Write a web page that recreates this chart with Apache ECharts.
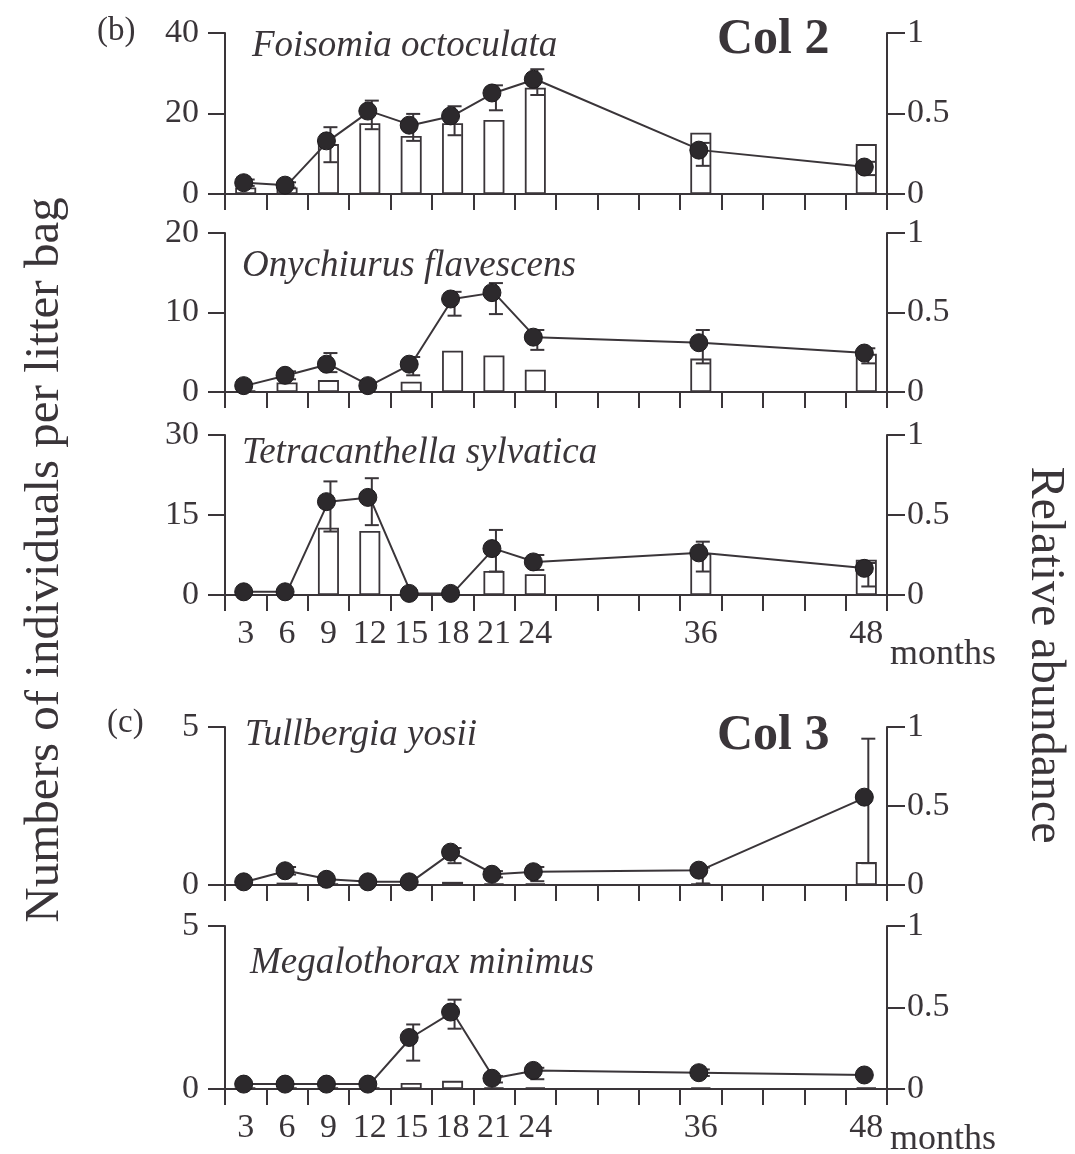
<!DOCTYPE html>
<html>
<head>
<meta charset="utf-8">
<script src="https://cdn.jsdelivr.net/npm/echarts@6/dist/echarts.min.js"></script>
<style>html,body{margin:0;padding:0;background:#fff}#c{width:1075px;height:1154px}</style>
</head>
<body>
<div id="c"></div>
<script>
// ---- data ----
const months = ['3','6','9','12','15','18','21','24','27','30','33','36','39','42','45','48'];
const sampleMonths = ['3','6','9','12','15','18','21','24','36','48'];
const tickLabels = ['3','6','9','12','15','18','21','24','36','48'];

const speciesNames = ['Foisomia octoculata','Onychiurus flavescens','Tetracanthella sylvatica','Tullbergia yosii','Megalothorax minimus'];
const leftMax = [40, 20, 30, 5, 5];
const leftInterval = [20, 10, 15, 5, 5];

// mean numbers per litter bag (left axis), error bar ends, relative abundance (right axis)
const foisomiaMean = [2.8, 2.2, 13.2, 20.6, 17.1, 19.4, 25.1, 28.5, 10.9, 6.7];
const foisomiaHi   = [3.6, 2.9, 16.6, 23.2, 19.9, 21.8, 27.0, 31.0, 12.7, 8.0];
const foisomiaLo   = [2.0, 1.6, 7.9, 16.1, 13.2, 14.6, 20.8, 24.6, 7.0, 4.7];
const foisomiaRel  = [0.04, 0.04, 0.31, 0.44, 0.36, 0.44, 0.46, 0.66, 0.38, 0.31];

const onychiurusMean = [0.8, 2.1, 3.5, 0.8, 3.5, 11.7, 12.5, 6.9, 6.2, 4.9];
const onychiurusHi   = [null, 2.6, 4.9, null, 4.4, 12.6, 13.7, 7.8, 7.8, 5.5];
const onychiurusLo   = [null, 1.6, 2.5, null, 2.1, 9.6, 9.8, 5.3, 3.6, 3.6];
const onychiurusRel  = [0.01, 0.06, 0.075, 0, 0.065, 0.26, 0.23, 0.14, 0.21, 0.24];

const tetraMean = [0.6, 0.6, 17.5, 18.3, 0.3, 0.3, 8.7, 6.2, 7.9, 5.0];
const tetraHi   = [null, null, 21.3, 21.9, null, null, 12.2, 7.5, 10.0, 6.0];
const tetraLo   = [null, null, 11.9, 13.1, null, null, 4.4, 4.7, 4.4, 1.6];
const tetraRel  = [0, 0, 0.42, 0.40, 0, 0, 0.15, 0.13, 0.26, 0.22];

const tullMean = [0.1, 0.45, 0.18, 0.1, 0.1, 1.04, 0.34, 0.42, 0.47, 2.78];
const tullHi   = [null, 0.57, null, null, null, 1.17, 0.44, 0.57, 0.55, 4.63];
const tullLo   = [null, 0.33, null, null, null, 0.69, 0.24, 0.12, 0.05, 0.69];
const tullRel  = [0, 0.015, 0.01, 0, 0, 0.02, 0.01, 0.01, 0.01, 0.145];

const megaMean = [0.15, 0.15, 0.15, 0.15, 1.58, 2.36, 0.33, 0.57, 0.5, 0.43];
const megaHi   = [null, null, null, null, 1.98, 2.74, 0.4, 0.65, 0.6, null];
const megaLo   = [null, null, null, null, 0.87, 1.85, 0.2, 0.3, 0.4, null];
const megaRel  = [0.01, 0.01, 0.01, 0.01, 0.037, 0.05, 0.01, 0.01, 0.01, 0.01];

const means = [foisomiaMean, onychiurusMean, tetraMean, tullMean, megaMean];
const his = [foisomiaHi, onychiurusHi, tetraHi, tullHi, megaHi];
const los = [foisomiaLo, onychiurusLo, tetraLo, tullLo, megaLo];
const rels = [foisomiaRel, onychiurusRel, tetraRel, tullRel, megaRel];

// ---- layout / style ----
const INK = '#3a3539';
const SERIF = '"Liberation Serif", "DejaVu Serif", serif';
const gridTops = [33, 233, 435, 727, 926];
const gridHeights = [161, 159, 160, 158, 163];
const speciesPos = [[252, 46], [242, 266], [242, 453], [245, 735], [250, 963]];

function toCat(arr) {
  const out = months.map(() => null);
  sampleMonths.forEach((m, k) => { out[months.indexOf(m)] = arr[k]; });
  return out;
}

const grid = [], xAxis = [], yAxis = [], series = [];
for (let i = 0; i < 5; i++) {
  grid.push({ left: 225, width: 662, top: gridTops[i], height: gridHeights[i] });
  const showLab = (i === 2 || i === 4);
  xAxis.push({
    type: 'category', gridIndex: i, data: months, boundaryGap: true,
    axisLine: { show: true, lineStyle: { color: INK, width: 2 } },
    axisTick: { show: true, interval: 0, length: 16, lineStyle: { color: INK, width: 2 } },
    axisLabel: {
      show: showLab, interval: 0, margin: 22, color: INK, fontFamily: SERIF, fontSize: 34,
      formatter: v => tickLabels.indexOf(v) >= 0 ? v : ''
    },
    splitLine: { show: false }
  });
  yAxis.push({
    type: 'value', gridIndex: i, min: 0, max: leftMax[i], interval: leftInterval[i], position: 'left',
    axisLine: { show: true, lineStyle: { color: INK, width: 2 } },
    axisTick: { show: true, length: 17, lineStyle: { color: INK, width: 2 } },
    axisLabel: { color: INK, fontFamily: SERIF, fontSize: 34, margin: 26 },
    splitLine: { show: false }
  });
  yAxis.push({
    type: 'value', gridIndex: i, min: 0, max: 1, interval: 0.5, position: 'right',
    axisLine: { show: true, lineStyle: { color: INK, width: 2 } },
    axisTick: { show: true, length: 18, lineStyle: { color: INK, width: 2 } },
    axisLabel: { color: INK, fontFamily: SERIF, fontSize: 34, margin: 20 },
    splitLine: { show: false }
  });

  series.push({
    type: 'bar', xAxisIndex: i, yAxisIndex: 2 * i + 1, barWidth: 21,
    data: toCat(rels[i]).map(v => (v === 0 ? null : v)),
    itemStyle: { color: '#ffffff', borderColor: INK, borderWidth: 1.8 },
    silent: true, z: 2
  });

  const errData = [];
  sampleMonths.forEach((m, k) => {
    if (his[i][k] != null && los[i][k] != null) errData.push([months.indexOf(m), his[i][k], los[i][k]]);
  });
  series.push({
    type: 'custom', xAxisIndex: i, yAxisIndex: 2 * i, z: 3,
    data: errData,
    encode: { x: 0, y: [1, 2] },
    renderItem: function (params, api) {
      const x = api.value(0);
      const pHi = api.coord([x, api.value(1)]);
      const pLo = api.coord([x, api.value(2)]);
      const cx = pHi[0] + 2, w = 7;
      const st = { stroke: INK, lineWidth: 2 };
      return {
        type: 'group', children: [
          { type: 'line', shape: { x1: cx, y1: pHi[1], x2: cx, y2: pLo[1] }, style: st },
          { type: 'line', shape: { x1: cx - w, y1: pHi[1], x2: cx + w, y2: pHi[1] }, style: st },
          { type: 'line', shape: { x1: cx - w, y1: pLo[1], x2: cx + w, y2: pLo[1] }, style: st }
        ]
      };
    }
  });

  series.push({
    type: 'line', xAxisIndex: i, yAxisIndex: 2 * i, z: 4,
    data: toCat(means[i]), connectNulls: true, showAllSymbol: true,
    symbol: 'circle', symbolSize: 18, symbolOffset: [-2, 0],
    lineStyle: { color: INK, width: 2 },
    itemStyle: { color: '#2c292c', borderColor: '#1f1c1f', borderWidth: 1 }
  });
}

const graphic = [];
speciesNames.forEach((n, i) => {
  graphic.push({ type: 'text', x: speciesPos[i][0], y: speciesPos[i][1],
    style: { text: n, font: 'italic 37px ' + SERIF, fill: INK, align: 'left', verticalAlign: 'middle' } });
});
graphic.push({ type: 'text', x: 97, y: 31, style: { text: '(b)', font: '33px ' + SERIF, fill: INK, verticalAlign: 'middle' } });
graphic.push({ type: 'text', x: 107, y: 723, style: { text: '(c)', font: '33px ' + SERIF, fill: INK, verticalAlign: 'middle' } });
graphic.push({ type: 'text', x: 717, y: 40, style: { text: 'Col 2', font: 'bold 50px ' + SERIF, fill: INK, verticalAlign: 'middle' } });
graphic.push({ type: 'text', x: 717, y: 736, style: { text: 'Col 3', font: 'bold 50px ' + SERIF, fill: INK, verticalAlign: 'middle' } });
graphic.push({ type: 'text', x: 890, y: 655, style: { text: 'months', font: '36px ' + SERIF, fill: INK, verticalAlign: 'middle' } });
graphic.push({ type: 'text', x: 890, y: 1140, style: { text: 'months', font: '36px ' + SERIF, fill: INK, verticalAlign: 'middle' } });
graphic.push({ type: 'text', x: 45, y: 560, rotation: Math.PI / 2,
  style: { text: 'Numbers of individuals per litter bag', font: '49px ' + SERIF, fill: INK, align: 'center', verticalAlign: 'middle' } });
graphic.push({ type: 'text', x: 1045, y: 655, rotation: -Math.PI / 2,
  style: { text: 'Relative abundance', font: '48px ' + SERIF, fill: INK, align: 'center', verticalAlign: 'middle' } });

const chart = echarts.init(document.getElementById('c'), null, { renderer: 'canvas' });
chart.setOption({ animation: false, backgroundColor: '#ffffff', grid, xAxis, yAxis, series, graphic });
</script>
</body>
</html>
